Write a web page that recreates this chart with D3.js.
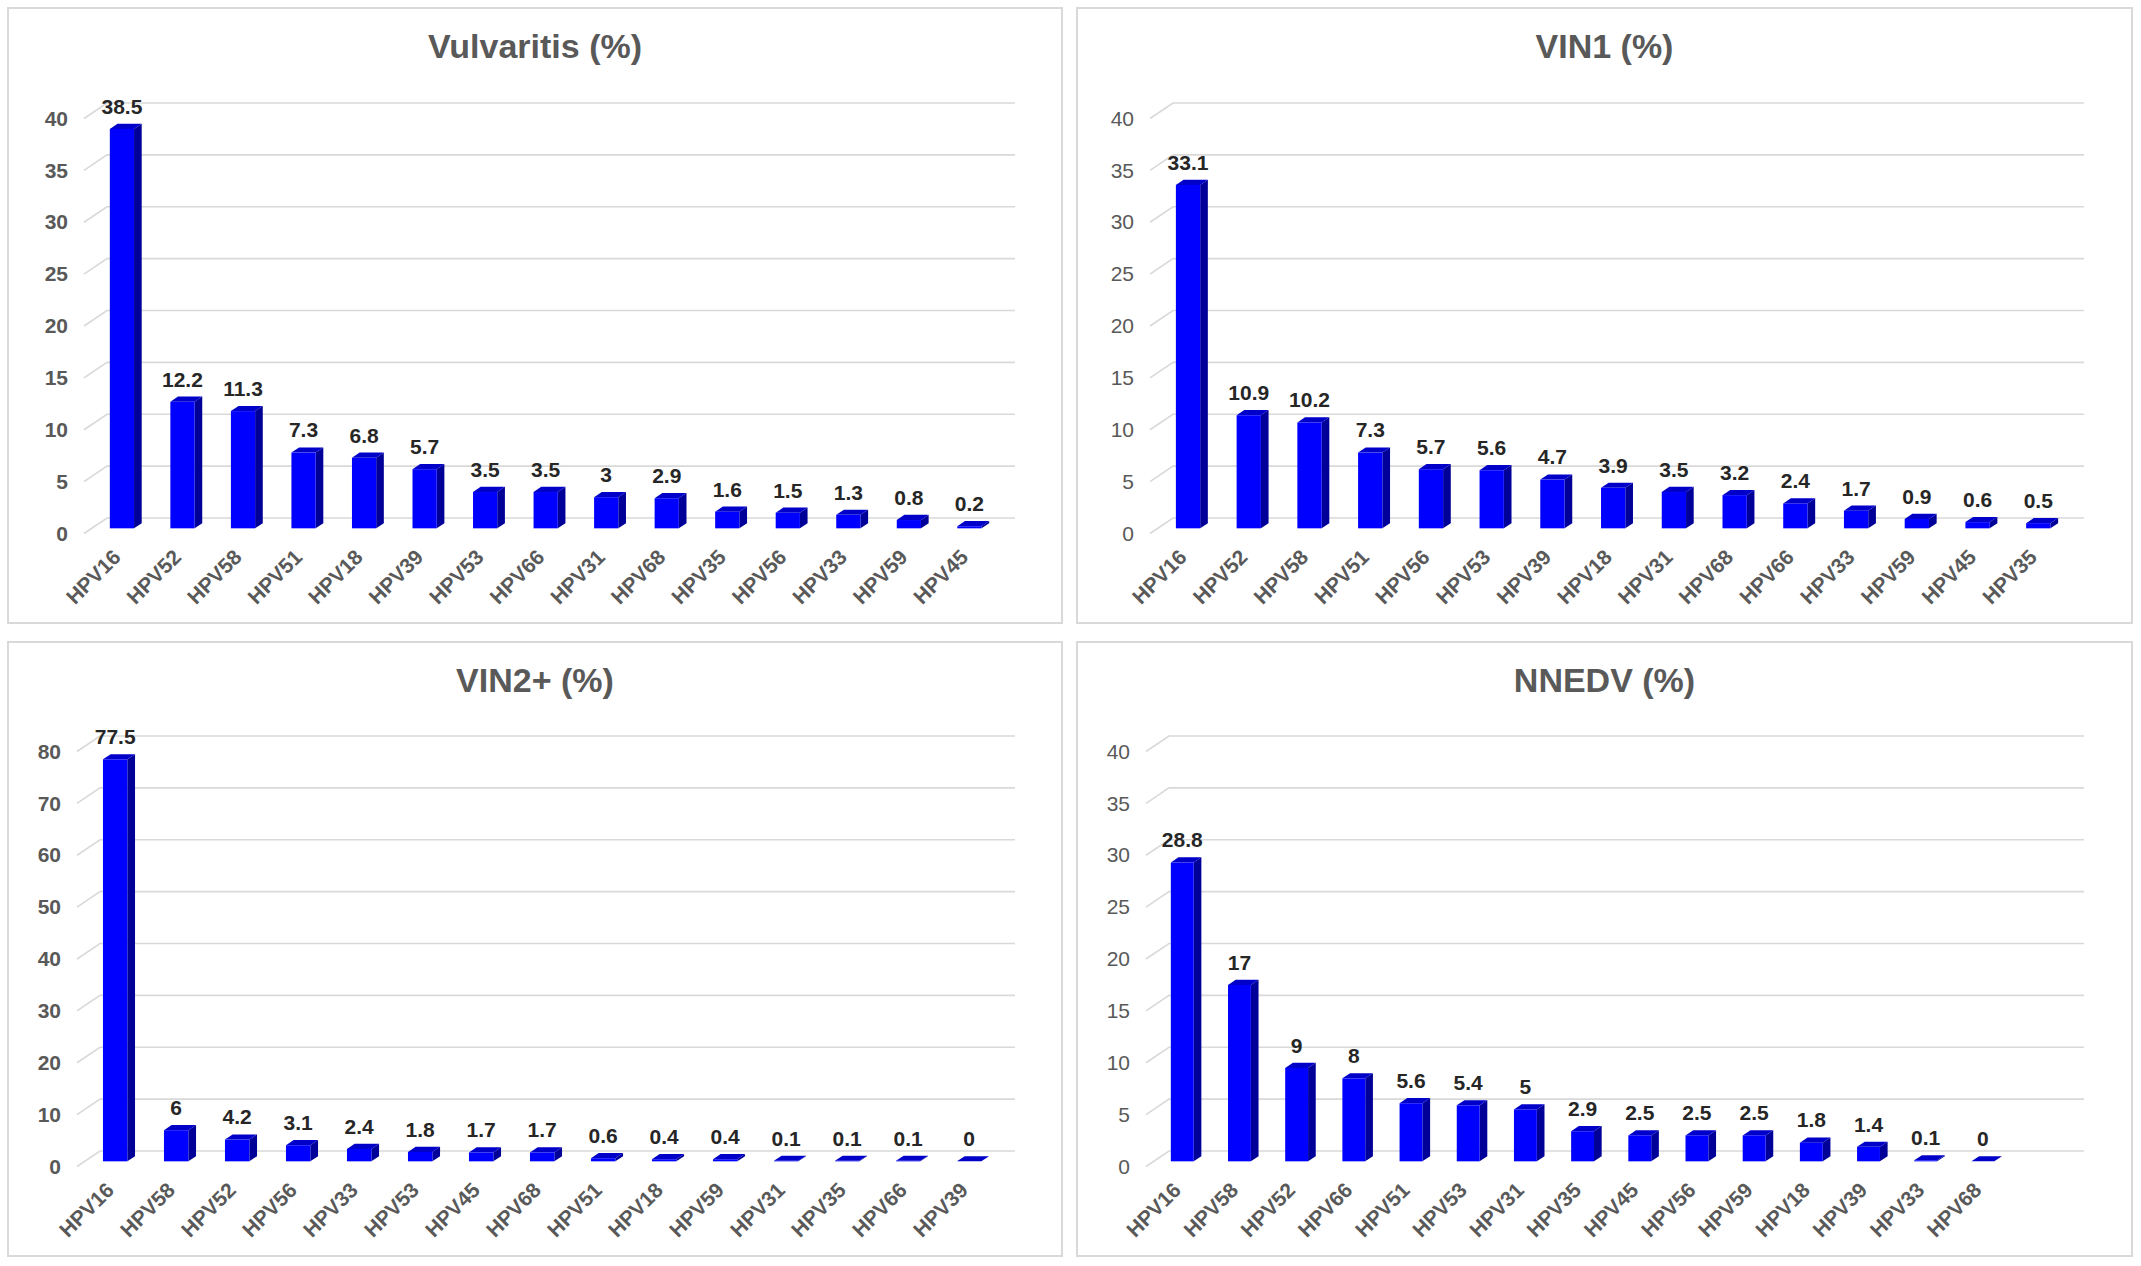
<!DOCTYPE html>
<html>
<head>
<meta charset="utf-8">
<script src="https://cdn.jsdelivr.net/npm/d3@7"></script>
<style>
  body { margin: 0; background: #fff; }
  svg { display: block; font-family: "Liberation Sans", Arial, sans-serif; }
</style>
</head>
<body>
<div id="chart"></div>
<script>
const VULV_CATS = ["HPV16", "HPV52", "HPV58", "HPV51", "HPV18", "HPV39", "HPV53", "HPV66", "HPV31", "HPV68", "HPV35", "HPV56", "HPV33", "HPV59", "HPV45"];
const VULV_VALS = [38.5, 12.2, 11.3, 7.3, 6.8, 5.7, 3.5, 3.5, 3, 2.9, 1.6, 1.5, 1.3, 0.8, 0.2];

const VIN1_CATS = ["HPV16", "HPV52", "HPV58", "HPV51", "HPV56", "HPV53", "HPV39", "HPV18", "HPV31", "HPV68", "HPV66", "HPV33", "HPV59", "HPV45", "HPV35"];
const VIN1_VALS = [33.1, 10.9, 10.2, 7.3, 5.7, 5.6, 4.7, 3.9, 3.5, 3.2, 2.4, 1.7, 0.9, 0.6, 0.5];

const VIN2_CATS = ["HPV16", "HPV58", "HPV52", "HPV56", "HPV33", "HPV53", "HPV45", "HPV68", "HPV51", "HPV18", "HPV59", "HPV31", "HPV35", "HPV66", "HPV39"];
const VIN2_VALS = [77.5, 6, 4.2, 3.1, 2.4, 1.8, 1.7, 1.7, 0.6, 0.4, 0.4, 0.1, 0.1, 0.1, 0];

// last slot is empty in the original chart
const NNEDV_CATS = ["HPV16", "HPV58", "HPV52", "HPV66", "HPV51", "HPV53", "HPV31", "HPV35", "HPV45", "HPV56", "HPV59", "HPV18", "HPV39", "HPV33", "HPV68", ""];
const NNEDV_VALS = [28.8, 17, 9, 8, 5.6, 5.4, 5, 2.9, 2.5, 2.5, 2.5, 1.8, 1.4, 0.1, 0, null];

const TICKS_40 = [0, 5, 10, 15, 20, 25, 30, 35, 40];
const TICKS_80 = [0, 10, 20, 30, 40, 50, 60, 70, 80];

const W = 2141, H = 1266;
const DX = 23, DY = 15.5;     // side wall depth (oblique offset of the front edge)
const TEXT = "#595959";

const panels = [
  {title: "Vulvaritis (%)", cats: VULV_CATS, vals: VULV_VALS, ticks: TICKS_40,
   x: 8, y: 8, w: 1054, h: 615, left: 99, top: 95, base: 510, bold: true},
  {title: "VIN1 (%)", cats: VIN1_CATS, vals: VIN1_VALS, ticks: TICKS_40,
   x: 1077, y: 8, w: 1055, h: 615, left: 96, top: 95, base: 510, bold: false},
  {title: "VIN2+ (%)", cats: VIN2_CATS, vals: VIN2_VALS, ticks: TICKS_80,
   x: 8, y: 642, w: 1054, h: 614, left: 92, top: 94, base: 509, bold: true},
  {title: "NNEDV (%)", cats: NNEDV_CATS, vals: NNEDV_VALS, ticks: TICKS_40,
   x: 1077, y: 642, w: 1055, h: 614, left: 92, top: 94, base: 509, bold: false}
];

const svg = d3.select("#chart").append("svg")
    .attr("width", W)
    .attr("height", H);

svg.append("rect").attr("width", W).attr("height", H).attr("fill", "#fff");

const draw_panel = (p) => {
  const g = svg.append("g").attr("transform", `translate(${p.x},${p.y})`);

  g.append("rect")
      .attr("width", p.w)
      .attr("height", p.h)
      .attr("fill", "#fff")
      .attr("stroke", "#d9d9d9")
      .attr("stroke-width", 2);

  g.append("text")
      .attr("x", p.w / 2)
      .attr("y", 50)
      .attr("text-anchor", "middle")
      .style("font-size", "34px")
      .style("font-weight", "bold")
      .style("fill", TEXT)
      .text(p.title);

  const wallR = 1007;
  const x = d3.scaleBand().domain(p.cats).range([p.left, wallR]);
  const y = d3.scaleLinear().domain([0, d3.max(p.ticks)]).range([p.base, p.top]);

  /* gridlines on back wall + side wall */
  g.append("g").selectAll("path")
    .data(p.ticks)
    .join("path")
      .attr("d", (t) => `M${p.left - DX},${y(t) + DY}L${p.left},${y(t)}L${wallR},${y(t)}`)
      .attr("fill", "none")
      .attr("stroke", "#d9d9d9")
      .attr("stroke-width", 1.6);

  const yAxis = g.append("g")
      .attr("transform", `translate(${p.left - DX - 16},${DY})`)
      .call(d3.axisLeft(y).tickValues(p.ticks).tickSize(0).tickPadding(0));
  yAxis.select(".domain").remove();
  yAxis.selectAll("text")
      .style("font-size", "21px")
      .style("font-family", "'Liberation Sans', Arial, sans-serif")
      .style("font-weight", p.bold ? "bold" : "normal")
      .style("fill", TEXT);

  const xAxis = g.append("g")
      .attr("transform", `translate(${-DX * 2 / 3},${p.base + DY})`)
      .call(d3.axisBottom(x).tickSize(0));
  xAxis.select(".domain").remove();
  xAxis.selectAll("text")
      .attr("x", 0)
      .attr("y", 0)
      .attr("dy", 0)
      .attr("transform", "translate(0,25) rotate(-45)")
      .style("text-anchor", "end")
      .style("font-size", "21px")
      .style("font-family", "'Liberation Sans', Arial, sans-serif")
      .style("font-weight", "bold")
      .style("fill", TEXT);

  /* 3d bars: front face sits at 2/3 depth, back at 1/3 */
  const bw = x.bandwidth() * 0.4;
  const bdx = DX / 3, bdy = DY / 3;
  const items = p.cats.map((c, i) => ({cat: c, val: p.vals[i]}))
      .filter((d) => d.val !== null);

  const bars = g.append("g").selectAll("g")
    .data(items)
    .join("g");

  bars.each(function (d) {
    const b = d3.select(this);
    const cx = x(d.cat) + x.bandwidth() / 2 - DX * 2 / 3;
    const xl = cx - bw / 2, xr = cx + bw / 2;
    const yb = y(0) + DY * 2 / 3;
    const yt = y(d.val) + DY * 2 / 3;

    b.append("polygon")
        .attr("points", [[xr, yt], [xr + bdx, yt - bdy], [xr + bdx, yb - bdy], [xr, yb]].join(" "))
        .attr("fill", "#000099");
    b.append("polygon")
        .attr("points", [[xl, yt], [xl + bdx, yt - bdy], [xr + bdx, yt - bdy], [xr, yt]].join(" "))
        .attr("fill", "#0000c8");
    b.append("rect")
        .attr("x", xl)
        .attr("y", yt)
        .attr("width", bw)
        .attr("height", yb - yt)
        .attr("fill", "#0000ff");
    b.append("text")
        .attr("x", cx)
        .attr("y", yt - bdy - 10)
        .attr("text-anchor", "middle")
        .style("font-size", "21px")
        .style("font-weight", "bold")
        .style("fill", "#262626")
        .text(d.val);
  });
}

panels.forEach(draw_panel);
</script>
</body>
</html>
